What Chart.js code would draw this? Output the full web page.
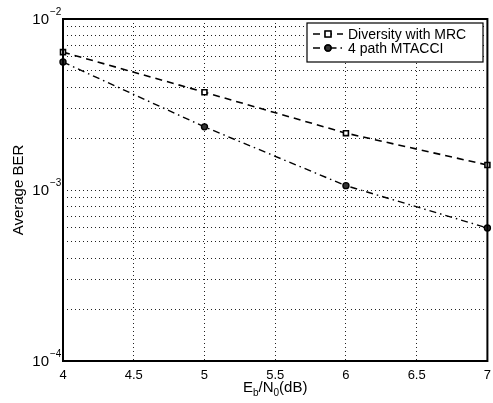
<!DOCTYPE html>
<html>
<head>
<meta charset="utf-8">
<script src="https://cdn.jsdelivr.net/npm/chart.js@4.4.1/dist/chart.umd.min.js"></script>
<style>
  html, body { margin: 0; padding: 0; background: #fff; }
  #wrap { width: 493px; height: 403px; position: relative; }
</style>
</head>
<body>
<div id="wrap"><canvas id="ber"></canvas></div>
<script>
'use strict';

// Eb/N0 values (dB)
const snrDb = [4, 5, 6, 7];
// Average BER
const berMrc = [6.4e-3, 3.73e-3, 2.15e-3, 1.40e-3];
const berMtacci = [5.6e-3, 2.34e-3, 1.06e-3, 6.0e-4];

const xTicks = [4, 4.5, 5, 5.5, 6, 6.5, 7];
const yTicks = [1e-4, 2e-4, 3e-4, 4e-4, 5e-4, 6e-4, 7e-4, 8e-4, 9e-4,
                1e-3, 2e-3, 3e-3, 4e-3, 5e-3, 6e-3, 7e-3, 8e-3, 9e-3, 1e-2];
const yLabelTicks = [1e-4, 1e-3, 1e-2];

const FONT = '"Liberation Sans", Arial, Helvetica, sans-serif';

/** Draws the MATLAB style box, tick labels, axis titles and the legend. */
const matlabDecor = {
  id: 'matlabDecor',
  afterDraw(chart) {
    const { ctx, chartArea: a, scales } = chart;
    ctx.save();

    // box
    ctx.strokeStyle = '#000';
    ctx.lineWidth = 2;
    ctx.setLineDash([]);
    ctx.strokeRect(a.left, a.top, a.right - a.left, a.bottom - a.top);

    ctx.fillStyle = '#000';

    // x tick labels
    ctx.font = '13px ' + FONT;
    ctx.textAlign = 'center';
    ctx.textBaseline = 'middle';
    xTicks.forEach((v) => {
      ctx.fillText(String(v), scales.x.getPixelForValue(v), a.bottom + 14);
    });

    // y tick labels as 10^n
    yLabelTicks.forEach((v) => {
      const y = scales.y.getPixelForValue(v);
      const exp = String(Math.round(Math.log10(v))).replace('-', '\u2212');
      ctx.font = '10px ' + FONT;
      ctx.textAlign = 'left';
      ctx.textBaseline = 'middle';
      ctx.fillText(exp, a.left - 13, y - 7);
      ctx.font = '15px ' + FONT;
      ctx.textAlign = 'right';
      ctx.fillText('10', a.left - 14, y + 1);
    });

    // x title E_b/N_0(dB)
    const parts = [
      ['E', 15, 0], ['b', 10, 4], ['/N', 15, 0], ['0', 10, 4], ['(dB)', 15, 0],
    ];
    let total = 0;
    parts.forEach(([t, s]) => { ctx.font = s + 'px ' + FONT; total += ctx.measureText(t).width; });
    let x = (a.left + a.right) / 2 - total / 2;
    const base = a.bottom + 31;
    ctx.textAlign = 'left';
    ctx.textBaseline = 'alphabetic';
    parts.forEach(([t, s, dy]) => {
      ctx.font = s + 'px ' + FONT;
      ctx.fillText(t, x, base + dy);
      x += ctx.measureText(t).width;
    });

    // y title
    ctx.save();
    ctx.translate(23, (a.top + a.bottom) / 2);
    ctx.rotate(-Math.PI / 2);
    ctx.font = '15px ' + FONT;
    ctx.textAlign = 'center';
    ctx.textBaseline = 'alphabetic';
    ctx.fillText('Average BER', 0, 0);
    ctx.restore();

    // legend box
    const lx = 307, ly = 23, lw = 176, lh = 39;
    ctx.fillStyle = '#fff';
    ctx.fillRect(lx, ly, lw, lh);
    ctx.strokeStyle = '#000';
    ctx.lineWidth = 1.2;
    ctx.strokeRect(lx, ly, lw, lh);

    chart.data.datasets.forEach((ds, i) => {
      const cy = ly + 11 + i * 14;
      ctx.strokeStyle = ds.borderColor;
      ctx.lineWidth = ds.borderWidth;
      ctx.setLineDash(ds.borderDash || []);
      ctx.beginPath();
      ctx.moveTo(lx + 6, cy);
      ctx.lineTo(lx + 36, cy);
      ctx.stroke();
      ctx.setLineDash([]);
      Chart.helpers.drawPoint(ctx, {
        pointStyle: ds.pointStyle,
        radius: ds.pointRadius,
        borderWidth: ds.pointBorderWidth,
      }, lx + 21, cy);
      ctx.fillStyle = ds.pointBackgroundColor;
      ctx.strokeStyle = ds.pointBorderColor;
      ctx.lineWidth = ds.pointBorderWidth;
      ctx.beginPath();
      if (ds.pointStyle === 'rect') {
        ctx.rect(lx + 21 - 3, cy - 3, 6, 6);
      } else {
        ctx.arc(lx + 21, cy, ds.pointRadius, 0, Math.PI * 2);
      }
      ctx.fill();
      ctx.stroke();
      ctx.fillStyle = '#000';
      ctx.font = '14px ' + FONT;
      ctx.textAlign = 'left';
      ctx.textBaseline = 'middle';
      ctx.fillText(ds.label, lx + 41, cy + 1);
    });

    ctx.restore();
  },
};

const gridStyle = {
  color: '#222',
  lineWidth: 1,
  drawTicks: false,
};

new Chart(document.getElementById('ber'), {
  type: 'line',
  data: {
    datasets: [
      {
        label: 'Diversity with MRC',
        data: snrDb.map((x, i) => ({ x, y: berMrc[i] })),
        borderColor: '#000',
        borderWidth: 1.6,
        borderDash: [7, 5],
        pointStyle: 'rect',
        pointRadius: 3.5,
        pointBackgroundColor: '#fff',
        pointBorderColor: '#000',
        pointBorderWidth: 1.6,
        tension: 0,
        clip: false,
      },
      {
        label: '4 path MTACCI',
        data: snrDb.map((x, i) => ({ x, y: berMtacci[i] })),
        borderColor: '#000',
        borderWidth: 1.4,
        borderDash: [7, 4, 1.5, 4],
        pointStyle: 'circle',
        pointRadius: 3,
        pointBackgroundColor: '#333',
        pointBorderColor: '#000',
        pointBorderWidth: 1.4,
        tension: 0,
        clip: false,
      },
    ],
  },
  options: {
    responsive: true,
    maintainAspectRatio: false,
    animation: false,
    layout: { padding: { left: 63, right: 4, top: 19, bottom: 42 } },
    plugins: { legend: { display: false }, tooltip: { enabled: false } },
    scales: {
      x: {
        type: 'linear',
        min: 4,
        max: 7,
        afterBuildTicks: (s) => { s.ticks = xTicks.map((v) => ({ value: v })); },
        ticks: { display: false },
        grid: gridStyle,
        border: { display: false, dash: [1, 3] },
      },
      y: {
        type: 'logarithmic',
        min: 1e-4,
        max: 1e-2,
        afterBuildTicks: (s) => { s.ticks = yTicks.map((v) => ({ value: v })); },
        ticks: { display: false },
        grid: gridStyle,
        border: { display: false, dash: [1, 3] },
      },
    },
  },
  plugins: [matlabDecor],
});
</script>
</body>
</html>
